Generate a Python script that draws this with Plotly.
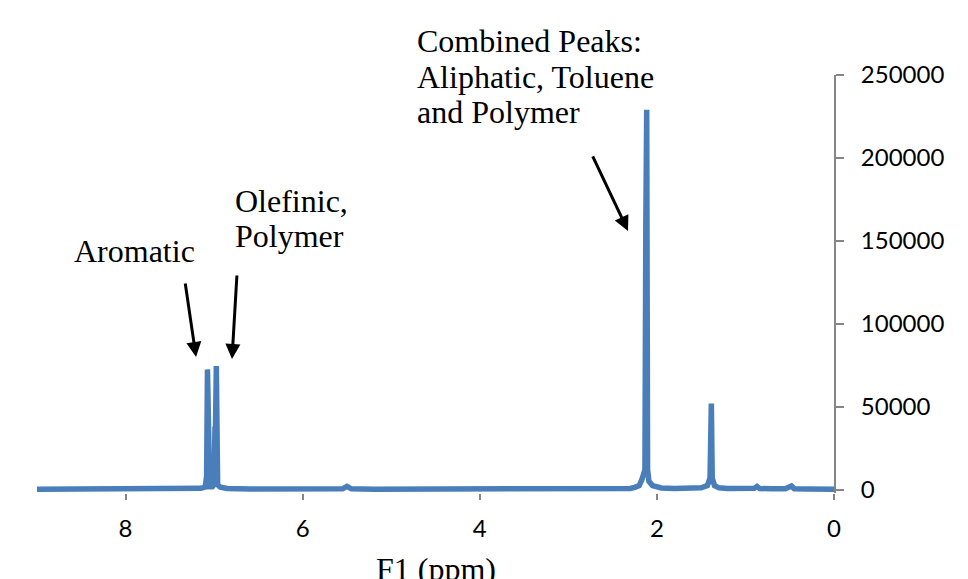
import plotly.graph_objects as go

# Chemical shift (ppm) and intensity
ppm = [9.00, 8.70, 8.40, 8.10, 7.80, 7.50, 7.30, 7.15, 7.10, 7.085, 7.075, 7.065, 7.05,
       7.02, 7.00, 6.99, 6.985, 6.975, 6.96, 6.93, 6.85, 6.60, 6.30, 6.00, 5.70, 5.55,
       5.50, 5.45, 5.20, 4.80, 4.40, 4.00, 3.60, 3.20, 2.80, 2.50, 2.30, 2.25, 2.20,
       2.17, 2.135, 2.125, 2.115, 2.105, 2.09, 2.05, 2.00, 1.95, 1.80, 1.60, 1.50,
       1.43, 1.40, 1.385, 1.375, 1.35, 1.30, 1.20, 1.00, 0.90, 0.87, 0.84, 0.70,
       0.55, 0.48, 0.45, 0.30, 0.10, 0.00]
intensity = [300, 400, 300, 400, 300, 400, 500, 800, 1600, 8000, 72500, 8000, 1800,
             1800, 3000, 38000, 35000, 74500, 3000, 1500, 700, 400, 300, 400, 300, 500,
             2000, 500, 300, 400, 300, 400, 300, 400, 300, 400, 700, 1400, 2500,
             6000, 12000, 160000, 229000, 12000, 5000, 2500, 1500, 1000, 700, 800, 1100,
             2500, 7000, 52000, 7000, 2500, 1100, 700, 600, 800, 2000, 700, 500,
             600, 2200, 600, 400, 300, 300]

y_ticks = [0, 50000, 100000, 150000, 200000, 250000]
x_ticks = [8, 6, 4, 2, 0]

fig = go.Figure()
fig.add_trace(go.Scatter(x=ppm, y=intensity, mode="lines",
                         line=dict(color="#4A7EBB", width=5.5), showlegend=False,
                         hoverinfo="skip"))

serif = "Liberation Serif"
tfont = dict(family=serif, size=32, color="black")

labels = [
    ("Combined Peaks:", 0.4743, 1.0813),
    ("Aliphatic, Toluene", 0.4743, 0.9952),
    ("and Polymer", 0.4743, 0.9115),
    ("Olefinic,", 0.2459, 0.6986),
    ("Polymer", 0.2459, 0.6148),
    ("Aromatic", 0.0439, 0.5789),
]
for txt, xp, yp in labels:
    fig.add_annotation(text=txt, x=xp, y=yp, xref="paper", yref="paper",
                       xanchor="left", yanchor="middle", showarrow=False, font=tfont)

fig.add_annotation(text="F1 (ppm)", x=0.5006, y=-0.1818, xref="paper", yref="paper",
                   xanchor="center", yanchor="middle", showarrow=False, font=tfont)

arrows = [
    (7.204, 80000, -11, -75),
    (6.798, 78800, 5, -85),
    (2.326, 156000, -36, -76),
]
for xa, ya, axp, ayp in arrows:
    fig.add_annotation(x=xa, y=ya, xref="x", yref="y", ax=axp, ay=ayp, text="",
                       showarrow=True, arrowhead=2, arrowsize=1, arrowwidth=3,
                       arrowcolor="black")

tick_font = dict(family="Lato", size=24, color="black")
fig.update_layout(
    width=960, height=571,
    margin=dict(l=29, r=134, t=67, b=86),
    paper_bgcolor="white", plot_bgcolor="white",
    xaxis=dict(range=[9, 0], tickvals=x_ticks, ticktext=[str(v) for v in x_ticks],
               showgrid=False, zeroline=False, showline=False,
               ticks="outside", ticklen=6, tickwidth=1.5, tickcolor="#868686",
               tickfont=tick_font, ticklabelstandoff=8, automargin=False),
    yaxis=dict(range=[-2000, 250000], side="right", tickvals=y_ticks,
               ticktext=[str(v) for v in y_ticks],
               showgrid=False, zeroline=False, showline=True, linecolor="#868686",
               linewidth=2, ticks="outside", ticklen=8, tickwidth=1.5,
               tickcolor="#868686", tickfont=tick_font, ticklabelstandoff=12,
               automargin=False),
)

fig.write_html("out.html")
